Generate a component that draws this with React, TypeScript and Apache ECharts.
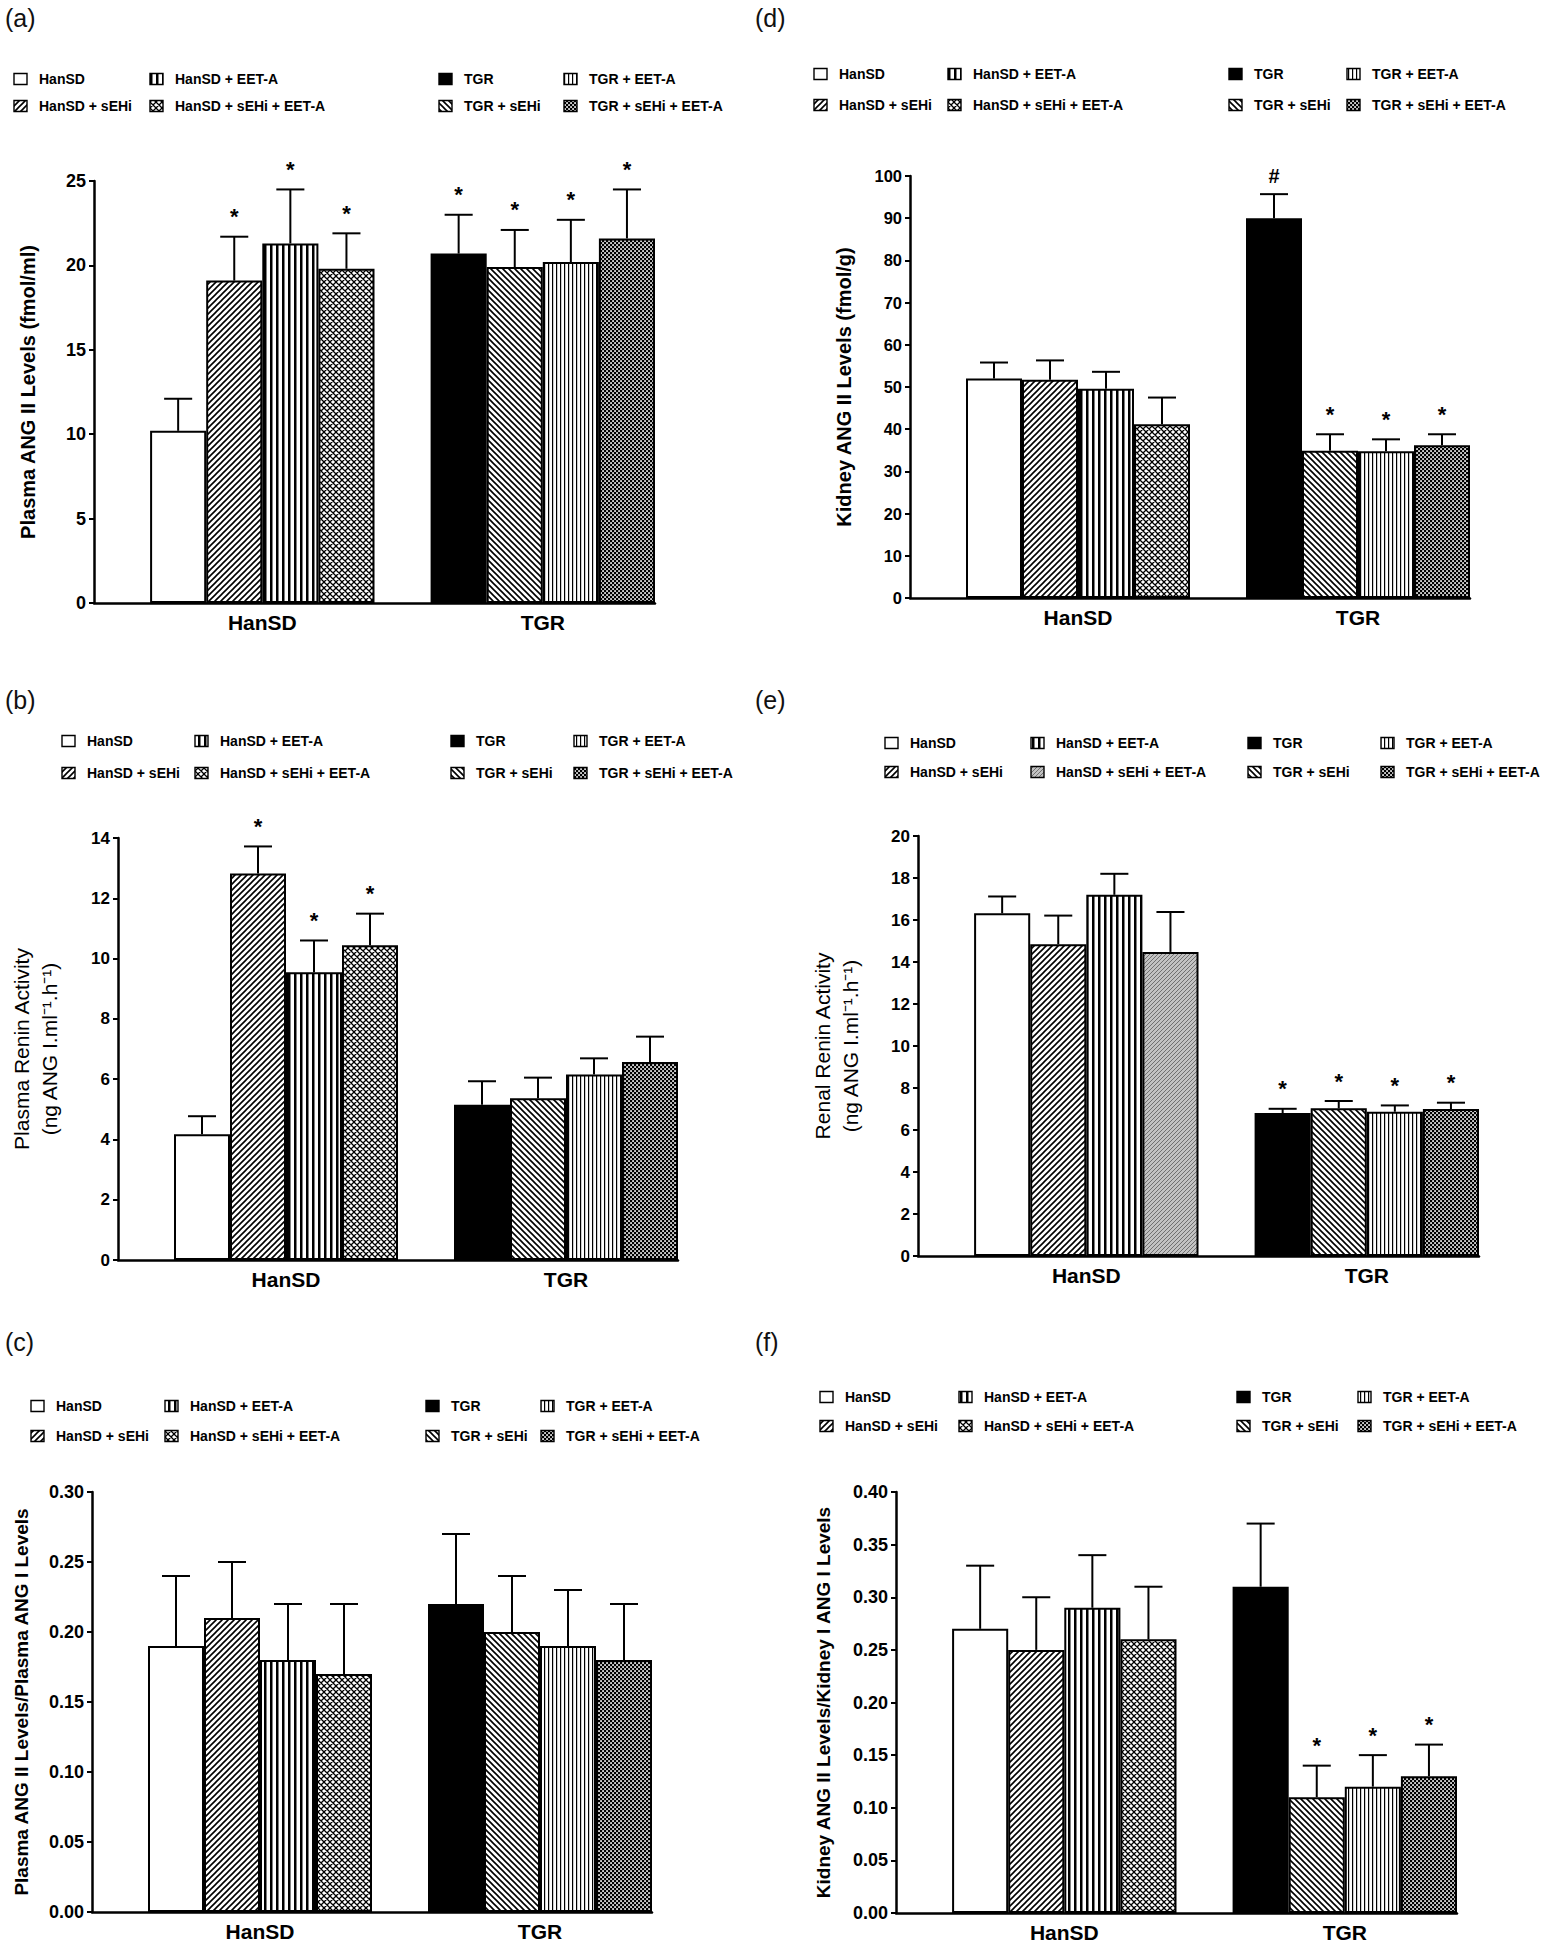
import React, { useEffect, useRef } from 'react';
import * as echarts from 'echarts';

// ---------- shared categories ----------
const groupLabels = ['HanSD', 'TGR'];
const seriesNames = [
  'HanSD', 'HanSD + sEHi', 'HanSD + EET-A', 'HanSD + sEHi + EET-A',
  'TGR', 'TGR + sEHi', 'TGR + EET-A', 'TGR + sEHi + EET-A',
];

// ---------- (a) Plasma ANG II ----------
const plasmaAngII = [10.2, 19.1, 21.3, 19.8, 20.7, 19.9, 20.2, 21.6];
const plasmaAngIIErr = [1.9, 2.6, 3.2, 2.1, 2.3, 2.2, 2.5, 2.9];
const plasmaAngIIMarks = ['', '*', '*', '*', '*', '*', '*', '*'];
const plasmaAngIITicks = ['0', '5', '10', '15', '20', '25'];

// ---------- (b) Plasma renin activity ----------
const plasmaRenin = [4.17, 12.82, 9.55, 10.44, 5.15, 5.37, 6.15, 6.57];
const plasmaReninErr = [0.6, 0.9, 1.05, 1.05, 0.78, 0.68, 0.54, 0.84];
const plasmaReninMarks = ['', '*', '*', '*', '', '', '', ''];
const plasmaReninTicks = ['0', '2', '4', '6', '8', '10', '12', '14'];

// ---------- (c) Plasma ANG II / ANG I ----------
const plasmaRatio = [0.19, 0.21, 0.18, 0.17, 0.22, 0.2, 0.19, 0.18];
const plasmaRatioErr = [0.05, 0.04, 0.04, 0.05, 0.05, 0.04, 0.04, 0.04];
const plasmaRatioMarks = ['', '', '', '', '', '', '', ''];
const plasmaRatioTicks = ['0.00', '0.05', '0.10', '0.15', '0.20', '0.25', '0.30'];

// ---------- (d) Kidney ANG II ----------
const kidneyAngII = [52.0, 51.7, 49.6, 41.2, 90.0, 34.9, 34.8, 36.2];
const kidneyAngIIErr = [3.8, 4.6, 4.0, 6.3, 5.7, 3.9, 2.8, 2.6];
const kidneyAngIIMarks = ['', '', '', '', '#', '*', '*', '*'];
const kidneyAngIITicks = ['0', '10', '20', '30', '40', '50', '60', '70', '80', '90', '100'];

// ---------- (e) Renal renin activity ----------
const renalRenin = [16.32, 14.85, 17.2, 14.48, 6.81, 7.03, 6.87, 7.0];
const renalReninErr = [0.8, 1.36, 1.0, 1.9, 0.2, 0.35, 0.3, 0.3];
const renalReninMarks = ['', '', '', '', '*', '*', '*', '*'];
const renalReninTicks = ['0', '2', '4', '6', '8', '10', '12', '14', '16', '18', '20'];

// ---------- (f) Kidney ANG II / ANG I ----------
const kidneyRatio = [0.27, 0.25, 0.29, 0.26, 0.31, 0.11, 0.12, 0.13];
const kidneyRatioErr = [0.06, 0.05, 0.05, 0.05, 0.06, 0.03, 0.03, 0.03];
const kidneyRatioMarks = ['', '', '', '', '', '*', '*', '*'];
const kidneyRatioTicks = ['0.00', '0.05', '0.10', '0.15', '0.20', '0.25', '0.30', '0.35', '0.40'];

// ---------- styling ----------
const FONT = "'Liberation Sans', Arial, Helvetica, sans-serif";

function tile(w: number, h: number, body: string) {
  const svg = `<svg xmlns='http://www.w3.org/2000/svg' width='${w}' height='${h}'>${body}</svg>`;
  return {
    image: 'data:image/svg+xml;charset=utf-8,' + encodeURIComponent(svg),
    repeat: 'repeat',
    imageWidth: w,
    imageHeight: h,
  };
}

const PAT: Record<string, any> = {
  white: '#ffffff',
  black: '#000000',
  diagUp: tile(6, 6, "<rect width='6' height='6' fill='#fff'/><path d='M-1.5,7.5L7.5,-1.5M-1.5,1.5L1.5,-1.5M4.5,7.5L7.5,4.5' stroke='#000' stroke-width='1.6'/>"),
  diagDown: tile(6, 6, "<rect width='6' height='6' fill='#fff'/><path d='M-1.5,-1.5L7.5,7.5M4.5,-1.5L7.5,1.5M-1.5,4.5L1.5,7.5' stroke='#000' stroke-width='1.6'/>"),
  vertThick: tile(6, 6, "<rect width='6' height='6' fill='#fff'/><rect x='0' y='0' width='2.5' height='6' fill='#000'/>"),
  vertThin: tile(4, 4, "<rect width='4' height='4' fill='#fff'/><rect x='0' y='0' width='1.2' height='4' fill='#000'/>"),
  cross: tile(6, 6, "<rect width='6' height='6' fill='#fff'/><path d='M-1.5,7.5L7.5,-1.5M-1.5,1.5L1.5,-1.5M4.5,7.5L7.5,4.5M-1.5,-1.5L7.5,7.5M4.5,-1.5L7.5,1.5M-1.5,4.5L1.5,7.5' stroke='#000' stroke-width='1.3'/>"),
  check: tile(4, 4, "<rect width='4' height='4' fill='#000'/><rect x='0.2' y='0.2' width='1.7' height='1.7' fill='#fff'/><rect x='2.2' y='2.2' width='1.7' height='1.7' fill='#fff'/>"),
  grayDiag: tile(4, 4, "<rect width='4' height='4' fill='#c2c2c2'/><path d='M-1,5L5,-1M-1,1L1,-1M3,5L5,3' stroke='#666' stroke-width='0.9'/>"),
};

const defaultPatterns = ['white', 'diagUp', 'vertThick', 'cross', 'black', 'diagDown', 'vertThin', 'check'];
const renalPatterns = ['white', 'diagUp', 'vertThick', 'grayDiag', 'black', 'diagDown', 'vertThin', 'check'];

// layout on the x value axis: each bar is one unit wide
const X_MAX = 10;
const groupStart = [1, 6];
const barsPerGroup = 4;
const xPos = (j: number) => groupStart[Math.floor(j / barsPerGroup)] + (j % barsPerGroup) + 0.5;
const groupCenters = groupStart.map((s) => s + barsPerGroup / 2);

interface Panel {
  label: string; labelX: number; labelY: number;
  grid: { left: number; top: number; width: number; height: number };
  yName: string; nameGap: number; nameSize: number; nameWeight: string; nameLH: number;
  tickSize: number;
  values: number[]; errs: number[]; marks: string[]; ticks: string[];
  patterns: string[];
  legendCols: number[]; legendRows: number[];
}

const panels: Panel[] = [
  {
    label: '(a)', labelX: 5, labelY: 5,
    grid: { left: 94, top: 181, width: 561, height: 422 },
    yName: 'Plasma ANG II Levels (fmol/ml)', nameGap: 54, nameSize: 20, nameWeight: 'bold', nameLH: 24,
    tickSize: 18,
    values: plasmaAngII, errs: plasmaAngIIErr, marks: plasmaAngIIMarks, ticks: plasmaAngIITicks,
    patterns: defaultPatterns,
    legendCols: [14, 150, 439, 564], legendRows: [79, 106],
  },
  {
    label: '(b)', labelX: 5, labelY: 687,
    grid: { left: 118, top: 838, width: 560, height: 422 },
    yName: 'Plasma Renin Activity\n(ng ANG I.ml\u207B\u00B9.h\u207B\u00B9)', nameGap: 55, nameSize: 21, nameWeight: 'normal', nameLH: 28,
    tickSize: 17,
    values: plasmaRenin, errs: plasmaReninErr, marks: plasmaReninMarks, ticks: plasmaReninTicks,
    patterns: defaultPatterns,
    legendCols: [62, 195, 451, 574], legendRows: [741, 773],
  },
  {
    label: '(c)', labelX: 5, labelY: 1329,
    grid: { left: 92, top: 1492, width: 560, height: 420 },
    yName: 'Plasma ANG II Levels/Plasma ANG I Levels', nameGap: 60, nameSize: 19, nameWeight: 'bold', nameLH: 22,
    tickSize: 18,
    values: plasmaRatio, errs: plasmaRatioErr, marks: plasmaRatioMarks, ticks: plasmaRatioTicks,
    patterns: defaultPatterns,
    legendCols: [31, 165, 426, 541], legendRows: [1406, 1436],
  },
  {
    label: '(d)', labelX: 755, labelY: 5,
    grid: { left: 910, top: 176, width: 560, height: 422 },
    yName: 'Kidney ANG II Levels (fmol/g)', nameGap: 54, nameSize: 20, nameWeight: 'bold', nameLH: 24,
    tickSize: 16.5,
    values: kidneyAngII, errs: kidneyAngIIErr, marks: kidneyAngIIMarks, ticks: kidneyAngIITicks,
    patterns: defaultPatterns,
    legendCols: [814, 948, 1229, 1347], legendRows: [74, 105],
  },
  {
    label: '(e)', labelX: 755, labelY: 687,
    grid: { left: 918, top: 836, width: 561, height: 420 },
    yName: 'Renal Renin Activity\n(ng ANG I.ml\u207B\u00B9.h\u207B\u00B9)', nameGap: 54, nameSize: 21, nameWeight: 'normal', nameLH: 28,
    tickSize: 17,
    values: renalRenin, errs: renalReninErr, marks: renalReninMarks, ticks: renalReninTicks,
    patterns: renalPatterns,
    legendCols: [885, 1031, 1248, 1381], legendRows: [743, 772],
  },
  {
    label: '(f)', labelX: 755, labelY: 1329,
    grid: { left: 896, top: 1492, width: 561, height: 421 },
    yName: 'Kidney ANG II Levels/Kidney I ANG I Levels', nameGap: 62, nameSize: 19, nameWeight: 'bold', nameLH: 22,
    tickSize: 18,
    values: kidneyRatio, errs: kidneyRatioErr, marks: kidneyRatioMarks, ticks: kidneyRatioTicks,
    patterns: defaultPatterns,
    legendCols: [820, 959, 1237, 1358], legendRows: [1397, 1426],
  },
];

function buildOption() {
  const grid: any[] = [];
  const xAxis: any[] = [];
  const yAxis: any[] = [];
  const series: any[] = [];
  const graphic: any[] = [];

  panels.forEach((p, i) => {
    grid.push({ ...p.grid, containLabel: false });
    xAxis.push({
      gridIndex: i, type: 'value', min: 0, max: X_MAX, interval: 1,
      axisLine: { show: true, onZero: false, lineStyle: { color: '#000', width: 2.5 } },
      axisTick: { show: false },
      splitLine: { show: false },
      axisLabel: {
        showMinLabel: true, showMaxLabel: true,
        formatter: (v: number) => {
          const g = groupCenters.findIndex((c) => Math.abs(c - v) < 1e-6);
          return g >= 0 ? groupLabels[g] : '';
        },
        color: '#000', fontFamily: FONT, fontWeight: 'bold', fontSize: 21, margin: 9,
      },
    });
    const tMin = parseFloat(p.ticks[0]);
    const tStep = parseFloat(p.ticks[1]) - tMin;
    const tMax = parseFloat(p.ticks[p.ticks.length - 1]);
    yAxis.push({
      gridIndex: i, type: 'value', min: tMin, max: tMax, interval: tStep,
      axisLine: { show: true, lineStyle: { color: '#000', width: 2.5 } },
      axisTick: { show: true, length: 5, lineStyle: { color: '#000', width: 2 } },
      splitLine: { show: false },
      axisLabel: {
        formatter: (v: number) => p.ticks[Math.round((v - tMin) / tStep)] ?? '',
        color: '#000', fontFamily: FONT, fontWeight: 'bold', fontSize: p.tickSize, margin: 8,
      },
      name: p.yName, nameLocation: 'middle', nameGap: p.nameGap,
      nameTextStyle: {
        color: '#000', fontFamily: FONT, fontWeight: p.nameWeight, fontSize: p.nameSize,
        lineHeight: p.nameLH, align: 'center',
      },
    });

    series.push({
      type: 'bar', name: 'panel' + i, xAxisIndex: i, yAxisIndex: i,
      barWidth: '100%', silent: true,
      data: p.values.map((v, j) => ({
        value: [xPos(j), v],
        itemStyle: { color: PAT[p.patterns[j]], borderColor: '#000', borderWidth: 2 },
      })),
    });

    series.push({
      type: 'custom', name: 'err' + i, xAxisIndex: i, yAxisIndex: i, silent: true, z: 5,
      clip: false,
      data: p.values.map((v, j) => [xPos(j), v, p.errs[j]]),
      renderItem: (params: any, api: any) => {
        const x = api.value(0);
        const v = api.value(1);
        const e = api.value(2);
        const base = api.coord([x, v]);
        const top = api.coord([x, v + e]);
        const half = api.size([0.25, 0])[0];
        const children: any[] = [
          { type: 'line', shape: { x1: base[0], y1: base[1], x2: top[0], y2: top[1] }, style: { stroke: '#000', lineWidth: 2 } },
          { type: 'line', shape: { x1: top[0] - half, y1: top[1], x2: top[0] + half, y2: top[1] }, style: { stroke: '#000', lineWidth: 2 } },
        ];
        const m = p.marks[params.dataIndex];
        if (m) {
          children.push({
            type: 'text', x: top[0], y: top[1] - (m === '#' ? 18 : 20),
            style: { text: m, fill: '#000', fontFamily: FONT, fontWeight: 'bold', fontSize: m === '#' ? 20 : 22, align: 'center', verticalAlign: 'middle' },
          });
        }
        return { type: 'group', children };
      },
    });

    // panel letter
    graphic.push({
      type: 'text', x: p.labelX, y: p.labelY,
      style: { text: p.label, fill: '#111', fontFamily: FONT, fontSize: 25, fontWeight: 'normal', align: 'left', verticalAlign: 'top' },
    });

    // legend (2 rows x 4 columns)
    seriesNames.forEach((name, j) => {
      const col = Math.floor(j / 2);
      const row = j % 2;
      const x = p.legendCols[col];
      const y = p.legendRows[row];
      graphic.push({
        type: 'rect', shape: { x, y: y - 5.5, width: 13, height: 11 },
        style: { fill: PAT[p.patterns[j]], stroke: '#000', lineWidth: 1.4 },
      });
      graphic.push({
        type: 'text', x: x + 25, y,
        style: { text: name, fill: '#000', fontFamily: FONT, fontWeight: 'bold', fontSize: 14, align: 'left', verticalAlign: 'middle' },
      });
    });
  });

  return {
    animation: false,
    backgroundColor: '#ffffff',
    grid, xAxis, yAxis, series, graphic,
  };
}

export default function App() {
  const ref = useRef<HTMLDivElement>(null);
  useEffect(() => {
    const chart = echarts.init(ref.current as HTMLDivElement, null, { renderer: 'svg', width: 1551, height: 1950 });
    chart.setOption(buildOption() as any);
    return () => chart.dispose();
  }, []);
  return (
    <div
      ref={ref}
      style={{ position: 'absolute', left: 0, top: 0, width: 1551, height: 1950, background: '#fff' }}
    />
  );
}
